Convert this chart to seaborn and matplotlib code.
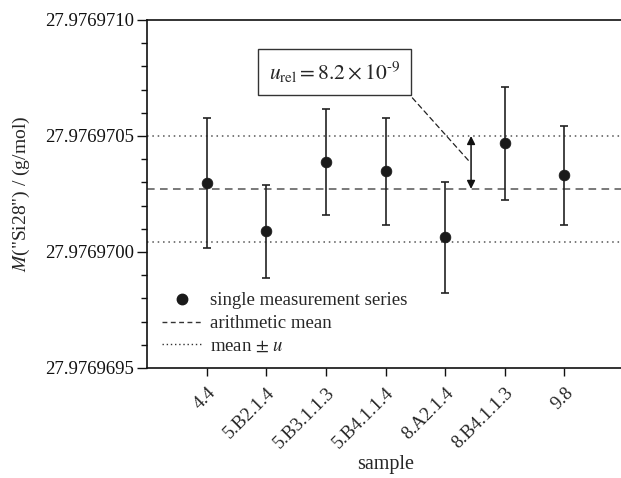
import matplotlib
matplotlib.use("Agg")
import matplotlib.pyplot as plt
import seaborn as sns
import pandas as pd
import numpy as np
from matplotlib.lines import Line2D
from matplotlib.ticker import FormatStrFormatter, FixedLocator

samples = ["4.4", "5.B2.1.4", "5.B3.1.1.3", "5.B4.1.1.4", "8.A2.1.4", "8.B4.1.1.3", "9.8"]
molar_mass = [27.976970297, 27.976970090, 27.976970388, 27.976970348,
              27.976970063, 27.976970468, 27.976970330]
uncertainty = [2.80e-7, 2.00e-7, 2.27e-7, 2.30e-7, 2.38e-7, 2.42e-7, 2.13e-7]
mean_value = 27.976970272
mean_u = 2.28e-7
major_ticks = [27.9769695, 27.9769700, 27.9769705, 27.9769710]
minor_step = 1e-7

df = pd.DataFrame({"sample": samples, "M": molar_mass, "u": uncertainty})

sns.set_theme(style="ticks")
plt.rcParams["font.family"] = ["Liberation Serif", "DejaVu Serif"]
plt.rcParams["mathtext.fontset"] = "stix"

fig = plt.figure(figsize=(6.21, 4.78), dpi=100)
ax = fig.add_axes([147/621, 1-368/478, 477/621, 348/478])

xpos = np.arange(len(samples))
ax.errorbar(xpos, df["M"], yerr=df["u"], fmt="none", ecolor="#222222",
            elinewidth=1.2, capsize=3.0, capthick=1.2, zorder=3)
sns.scatterplot(data=df, x="sample", y="M", ax=ax, color="#1a1a1a", s=60,
                edgecolor="#1a1a1a", linewidth=0.5, zorder=4, legend=False)

ax.axhline(mean_value, color="#555555", linestyle=(0, (5, 3.5)), linewidth=1.1, zorder=2)
ax.axhline(mean_value + mean_u, color="#555555", linestyle=(0, (1, 2.5)), linewidth=1.1, zorder=2)
ax.axhline(mean_value - mean_u, color="#555555", linestyle=(0, (1, 2.5)), linewidth=1.1, zorder=2)

# double arrow marking u
ax.annotate("", xy=(4.435, mean_value + mean_u), xytext=(4.435, mean_value),
            arrowprops=dict(arrowstyle="<|-|>", color="#111111", lw=1.1,
                            mutation_scale=12, shrinkA=0, shrinkB=0), zorder=5)
# annotation box with dashed leader
ax.annotate(r"$u_{\mathrm{rel}} = 8.2\times10^{\text{-}9}$",
            xy=(4.40, 27.9769695 + 8.92e-7), xycoords="data",
            xytext=(2.15, 27.9769695 + 12.76e-7), textcoords="data",
            ha="center", va="center", fontsize=15.5,
            bbox=dict(boxstyle="square,pad=0.5", fc="white", ec="#333333", lw=1.0),
            arrowprops=dict(arrowstyle="-", color="#222222", lw=0.9,
                            linestyle=(0, (4, 3)), shrinkA=2, shrinkB=0,
                            relpos=(1.0, 0.0)))

ax.set_xlim(-1, 7)
ax.set_ylim(major_ticks[0], major_ticks[-1])
ax.yaxis.set_major_locator(FixedLocator(major_ticks))
ax.yaxis.set_minor_locator(FixedLocator([major_ticks[0] + i*minor_step for i in range(16)]))
ax.yaxis.set_major_formatter(FormatStrFormatter("%.7f"))
ax.set_xticks(xpos)
ax.set_xticklabels(samples, rotation=45, ha="right", rotation_mode="anchor", fontsize=13.5)
ax.tick_params(axis="y", which="major", labelsize=13.5, length=7, width=1.0, direction="out",
               colors="#111111", pad=2)
ax.tick_params(axis="y", which="minor", length=4, width=1.0, direction="out", color="#111111")
ax.tick_params(axis="x", which="major", length=6, width=1.0, direction="out", color="#111111", pad=6)
for name, sp in ax.spines.items():
    sp.set_visible(name != "right")
    sp.set_linewidth(1.2)
    sp.set_color("#111111")

ax.set_xlabel("sample", fontsize=14.5, labelpad=2)
ax.set_ylabel(r'$M$("Si28") / (g/mol)', fontsize=14, labelpad=10)

handles = [
    Line2D([], [], marker="o", linestyle="none", color="#1a1a1a", markersize=7.5),
    Line2D([], [], color="#333333", linestyle=(0, (3.5, 2.5)), linewidth=1.0),
    Line2D([], [], color="#333333", linestyle=(0, (1, 2)), linewidth=1.0),
]
ax.legend(handles, ["single measurement series", "arithmetic mean", r"mean $\pm$ $u$"],
          loc="lower left", bbox_to_anchor=(0.003, 0.0), frameon=False, fontsize=13.5,
          handlelength=2.2, handletextpad=0.4, labelspacing=0.3, borderaxespad=0.3)

fig.savefig("out.png", dpi=100)
